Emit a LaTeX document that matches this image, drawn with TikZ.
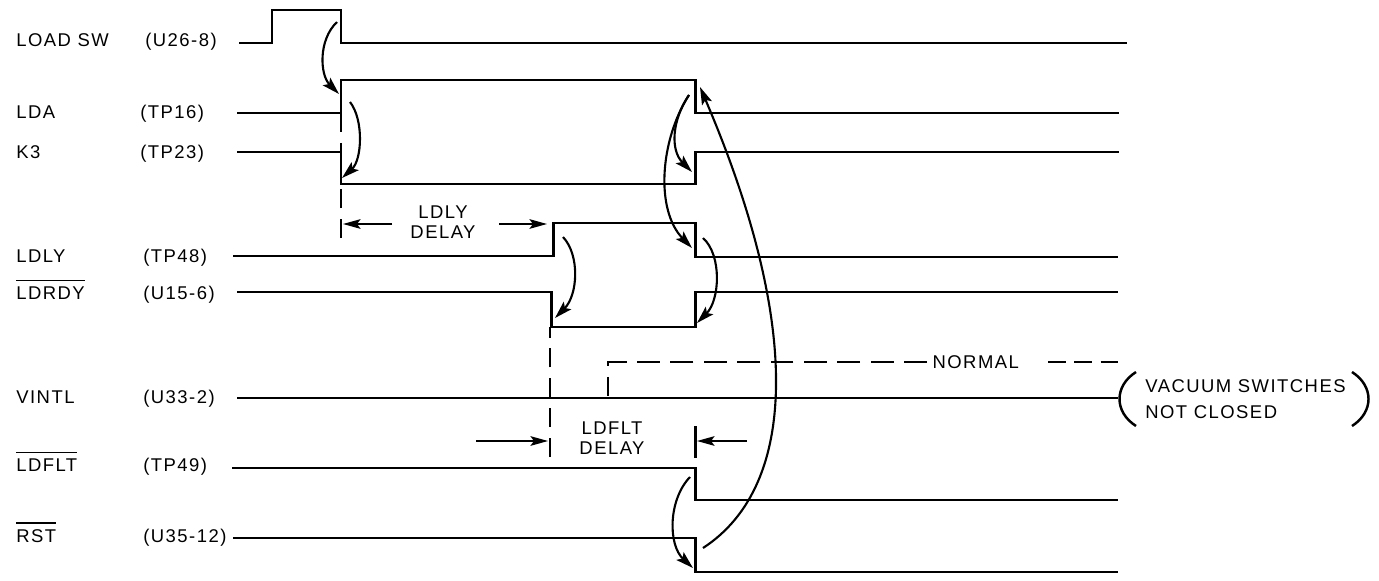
\documentclass[tikz,border=0pt]{standalone}
\usepackage{fontspec}
\setmainfont{Liberation Sans}[LetterSpace=8]
\usetikzlibrary{arrows.meta}
\newcommand{\ovl}[1]{\leavevmode\vbox{\hrule height 0.8pt\kern 3pt\hbox{#1}}}

\begin{document}
\begin{tikzpicture}[
    x=0.02cm, y=-0.02cm,
    font=\fontsize{10.5}{11.5}\selectfont,
    wave/.style={line width=1.7pt},
    cause/.style={-{Stealth[length=10pt, width=6pt, inset=2pt]}, line width=1.2pt},
    delaymark/.style={line width=1.4pt, dash pattern=on 11pt off 6pt},
    normline/.style={line width=1.5pt, dash pattern=on 13pt off 6pt},
    delayarrow/.style={-{Stealth[length=10pt, width=5.5pt, inset=2pt]}, line width=0.9pt},
    paren/.style={line width=1.4pt},
    sig/.style={anchor=base west, inner sep=0pt},
    pinlbl/.style={anchor=base west, inner sep=0pt},
    delaytxt/.style={align=center, inner sep=0pt}
]
\useasboundingbox (0,0) rectangle (1379,581);

% signal names and test points
\node[sig] (lsw) at (16,47) {LOAD SW};
\node[pinlbl] (psw) at (145,47) {(U26-8)};
\node[sig] (llda) at (16,118) {LDA};
\node[pinlbl] (plda) at (140,118) {(TP16)};
\node[sig] (lkthree) at (16,158) {K3};
\node[pinlbl] (pkthree) at (140,158) {(TP23)};
\node[sig] (lldly) at (16,262) {LDLY};
\node[pinlbl] (pldly) at (143,262) {(TP48)};
\node[sig] (lldrdy) at (16,299) {\ovl{LDRDY}};
\node[pinlbl] (pldrdy) at (143,299) {(U15-6)};
\node[sig] (lvintl) at (16,403) {VINTL};
\node[pinlbl] (pvintl) at (143,403) {(U33-2)};
\node[sig] (lldflt) at (16,471) {\ovl{LDFLT}};
\node[pinlbl] (pldflt) at (143,471) {(TP49)};
\node[sig] (lrst) at (16,542) {\ovl{RST}};
\node[pinlbl] (prst) at (143,542) {(U35-12)};

% dashed timing marks
\draw[delaymark] (341,113) -- (341,152);
\draw[delaymark] (341,238) -- (341,184);
\draw[delaymark] (550,457) -- (550,327);

% waveforms
\draw[wave] (239,43) -- (272,43) -- (272,10) -- (341,10) -- (341,43) -- (1127,43);
\draw[wave] (237,113) -- (341,113) -- (341,80) -- (695,80) -- (695,113) -- (1119,113);
\draw[wave] (237,152) -- (341,152) -- (341,184) -- (695,184) -- (695,152) -- (1119,152);
\draw[wave] (233,256) -- (553,256) -- (553,223) -- (695,223) -- (695,257) -- (1118,257);
\draw[wave] (237,292) -- (551,292) -- (551,327) -- (695,327) -- (695,292) -- (1118,292);
\draw[wave] (237,398) -- (1118,398);
\draw[wave] (232,468) -- (695,468) -- (695,500) -- (1118,500);
\draw[wave] (233,538) -- (695,538) -- (695,572) -- (1118,572);

% VINTL normal level
\node[anchor=west, inner xsep=3pt, inner ysep=0pt] (vnorm) at (927,362) {NORMAL};
\coordinate (vnormstart) at (608,396);
\coordinate (vnormright) at (1048,362);
\coordinate (vnormend) at (1125,362);
\draw[normline] (vnorm.west) -| (vnormstart);
\draw[normline, dash pattern=on 10pt off 5pt] (vnormright) -- (vnormend);
\node[anchor=west, align=left, inner sep=0pt,
      font=\fontsize{10.5}{14.5}\selectfont] (vac) at (1145,399)
  {VACUUM SWITCHES\\NOT CLOSED};
\draw[paren] (1136,372) .. controls (1114,386) and (1114,412) .. (1136,426);
\draw[paren] (1352,372) .. controls (1374,386) and (1374,412) .. (1352,426);

% LDLY delay
\node[delaytxt] (ldlytxt) at (443,222) {LDLY\\DELAY};
\coordinate (ldlyA) at (392,224);
\coordinate (ldlyB) at (343,224);
\coordinate (ldlyC) at (499,224);
\coordinate (ldlyD) at (547,224);
\draw[delayarrow] (ldlyA) -- (ldlyB);
\draw[delayarrow] (ldlyC) -- (ldlyD);

% LDFLT delay
\node[delaytxt] (ldflttxt) at (612,438) {LDFLT\\DELAY};
\coordinate (ldfltA) at (476,441);
\coordinate (ldfltB) at (548,441);
\coordinate (ldfltC) at (747,441);
\coordinate (ldfltD) at (697,441);
\coordinate (ldfltbartop) at (695,426);
\coordinate (ldfltbarbot) at (695,458);
\draw[delayarrow] (ldfltA) -- (ldfltB);
\draw[delayarrow] (ldfltC) -- (ldfltD);
\draw[wave] (ldfltbartop) -- (ldfltbarbot);

% cause and effect
\coordinate (swfall) at (337,22);
\coordinate (ldarise) at (339,94);
\coordinate (ldarise2) at (350,102);
\coordinate (kfall) at (342,178);
\coordinate (ldafall) at (689,95);
\coordinate (krise) at (692,172);
\coordinate (ldlyfall) at (692,248);
\coordinate (ldlyrise) at (563,237);
\coordinate (rdyfall) at (555,318);
\coordinate (ldlyfall2) at (703,238);
\coordinate (rdyrise) at (697,323);
\coordinate (fltfall) at (690,477);
\coordinate (rstfall) at (693,568);
\coordinate (rstlow) at (703,548);
\coordinate (ldaend) at (700,87);

\draw[cause] (swfall) .. controls (318,40) and (320,75) .. (ldarise);
\draw[cause] (ldarise2) .. controls (364,120) and (362,160) .. (kfall);
\draw[cause] (ldafall) .. controls (672,120) and (670,150) .. (krise);
\draw[cause] (ldafall) .. controls (660,140) and (655,210) .. (ldlyfall);
\draw[cause] (ldlyrise) .. controls (580,255) and (578,295) .. (rdyfall);
\draw[cause] (ldlyfall2) .. controls (722,255) and (720,300) .. (rdyrise);
\draw[cause] (fltfall) .. controls (668,500) and (668,545) .. (rstfall);
\draw[cause] (rstlow) .. controls (800,485) and (800,320) .. (ldaend);

\end{tikzpicture}
\end{document}
